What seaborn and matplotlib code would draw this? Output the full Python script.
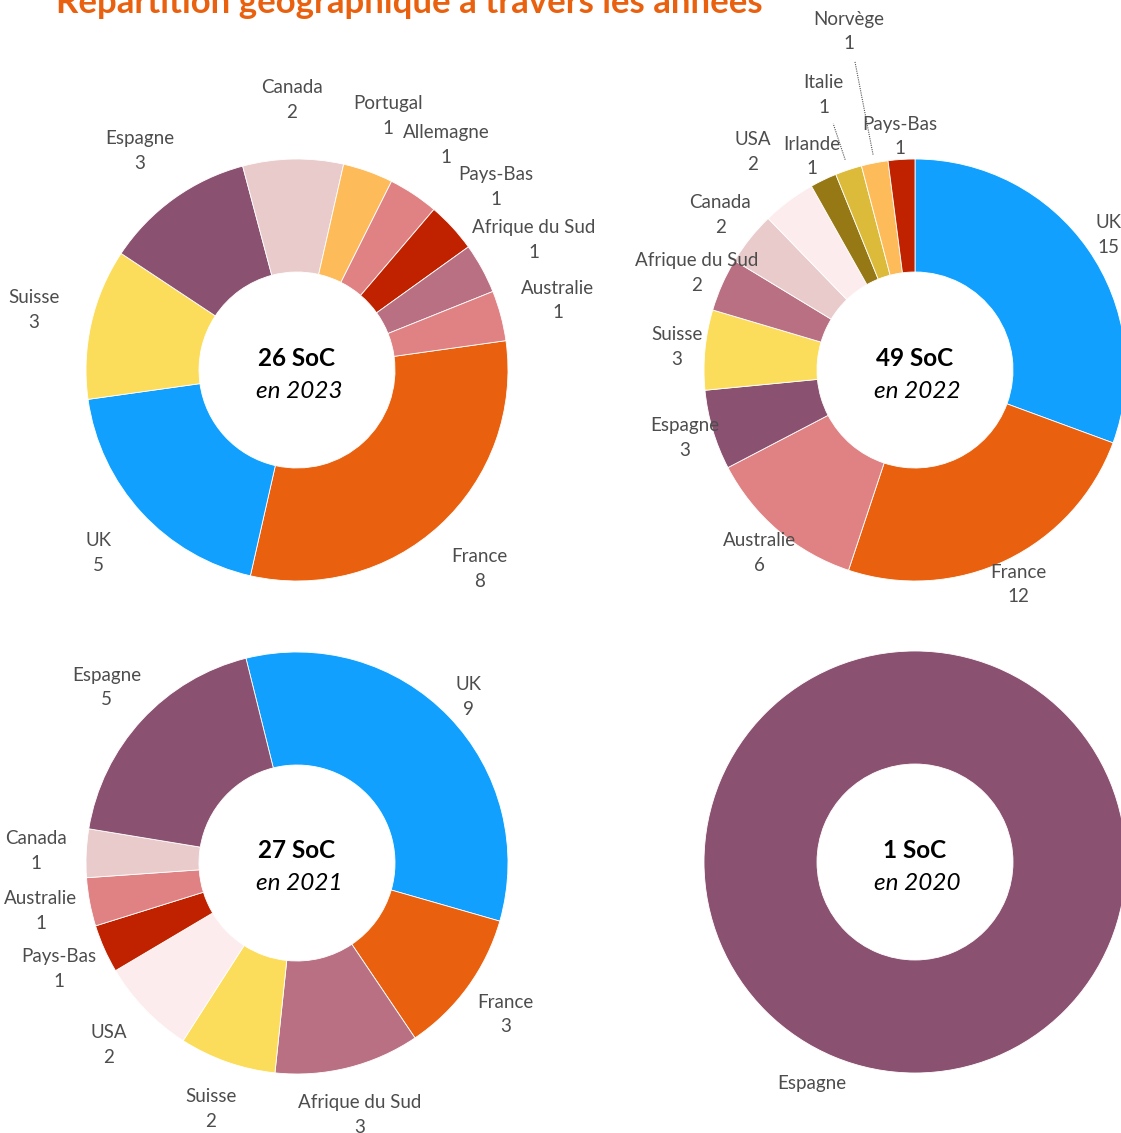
import numpy as np
import matplotlib
matplotlib.use("Agg")
import matplotlib.pyplot as plt
import seaborn as sns

# Data: number of SoC per country and per year
title = "Répartition géographique à travers les années"
years = ["2023", "2022", "2021", "2020"]

pays_2023 = ["France", "UK", "Suisse", "Espagne", "Canada", "Portugal",
             "Allemagne", "Pays-Bas", "Afrique du Sud", "Australie"]
soc_2023 = [8, 5, 3, 3, 2, 1, 1, 1, 1, 1]

pays_2022 = ["UK", "France", "Australie", "Espagne", "Suisse", "Afrique du Sud",
             "Canada", "USA", "Irlande", "Italie", "Norvège", "Pays-Bas"]
soc_2022 = [15, 12, 6, 3, 3, 2, 2, 2, 1, 1, 1, 1]

pays_2021 = ["UK", "France", "Afrique du Sud", "Suisse", "USA", "Pays-Bas",
             "Australie", "Canada", "Espagne"]
soc_2021 = [9, 3, 3, 2, 2, 1, 1, 1, 5]

pays_2020 = ["Espagne"]
soc_2020 = [1]

couleurs = {
    "France": "#e9610f",
    "UK": "#12a0ff",
    "Espagne": "#8a5170",
    "Suisse": "#fbdd5b",
    "Canada": "#e9cbcc",
    "Portugal": "#fdbb5a",
    "Norvège": "#fdbb5a",
    "Allemagne": "#e08283",
    "Australie": "#e08283",
    "Pays-Bas": "#c02200",
    "Afrique du Sud": "#b97083",
    "USA": "#fcecee",
    "Irlande": "#967815",
    "Italie": "#ddbb3a",
}

# Layout (pixels, origin top-left) - style only
W, H = 1121, 1133
R_OUT, R_IN = 211, 98
pies = [
    # year, countries, values, center, start angle (cw from north), label dists, show values
    (years[0], pays_2023, soc_2023, (297, 370), 82, [270] * 10, True),
    (years[1], pays_2022, soc_2022, (915, 370), 0,
     [236, 238, 240, 240, 239, 239, 249, 272, 237, 290, 345, 234], True),
    (years[2], pays_2021, soc_2021, (297, 863), -14,
     [239, 258, 260, 261, 262, 261, 261, 261, 259], True),
    (years[3], pays_2020, soc_2020, (915, 862), 25, [244], False),
]
leaders = {("2022", "Italie"): (1.05, 1.23), ("2022", "Norvège"): (1.04, 1.49)}

sns.set_style("white")
plt.rcParams['font.family'] = ['Lato', 'DejaVu Sans']

fig = plt.figure(figsize=(W / 100, H / 100), dpi=100)
ax = fig.add_axes([0, 0, 1, 1])

for year, pays, vals, (cx, cy), start, dists, show_val in pies:
    cy = H - cy
    cols = sns.color_palette([couleurs[p] for p in pays])
    wedges, _ = ax.pie(vals, colors=cols, startangle=90 - start, counterclock=False,
                       radius=R_OUT, center=(cx, cy), frame=False,
                       wedgeprops=dict(width=R_OUT - R_IN, edgecolor="white", linewidth=0.6))
    for w, p, v, d in zip(wedges, pays, vals, dists):
        mid = np.deg2rad((w.theta1 + w.theta2) / 2)
        txt = f"{p}\n{v}" if show_val else p
        ax.text(cx + d * np.cos(mid), cy + d * np.sin(mid), txt, ha="center", va="center",
                fontsize=13.5, color="#4d4d4d", linespacing=1.55)
        if (year, p) in leaders:
            a, b = leaders[(year, p)]
            ax.plot([cx + a * R_OUT * np.cos(mid), cx + b * R_OUT * np.cos(mid)],
                    [cy + a * R_OUT * np.sin(mid), cy + b * R_OUT * np.sin(mid)],
                    ls=(0, (1, 1)), lw=0.8, color="#555555")
    ax.text(cx, cy + 12, f"{sum(vals)} SoC", ha="center", va="center",
            fontsize=17.5, fontweight="bold", color="black")
    ax.text(cx + 2, cy - 21, f"en {year}", ha="center", va="center",
            fontsize=17.5, fontstyle="italic", color="black")

ax.text(56, H - 13, title, ha="left", va="baseline", fontsize=25,
        fontweight="bold", color="#e9610f")

ax.set_xlim(0, W)
ax.set_ylim(0, H)
ax.set_aspect("equal")
ax.axis("off")

fig.savefig("out.png", dpi=100)
